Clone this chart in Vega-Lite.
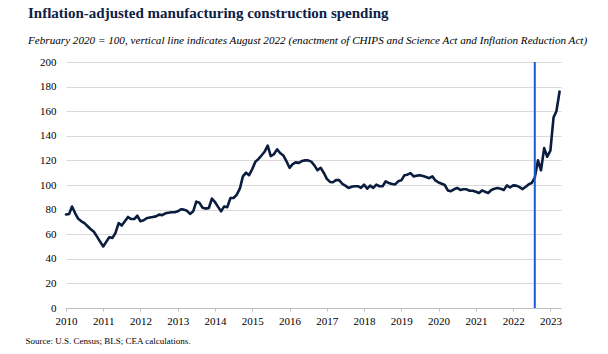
{
  "$schema": "https://vega.github.io/schema/vega-lite/v6.json",
  "width": 495,
  "height": 246,
  "autosize": "none",
  "padding": {"left": 66, "top": 62, "right": 47, "bottom": 46},
  "background": "white",
  "config": {"view": {"stroke": null}, "font": "Liberation Serif"},
  "title": {
    "text": "Inflation-adjusted manufacturing construction spending",
    "subtitle": "February 2020 = 100, vertical line indicates August 2022 (enactment of CHIPS and Science Act and Inflation Reduction Act)",
    "anchor": "start",
    "frame": "group",
    "dx": -38,
    "offset": 10,
    "font": "Liberation Serif",
    "fontSize": 15,
    "fontWeight": "bold",
    "color": "#0c2146",
    "subtitleFont": "Liberation Serif",
    "subtitleFontStyle": "italic",
    "subtitleFontSize": 11.15,
    "subtitleColor": "#000000",
    "subtitlePadding": 14
  },
  "datasets": {
    "series": [
      {"date": "2010-01-01", "v": 76}, {"date": "2010-02-01", "v": 76.5}, {"date": "2010-03-01", "v": 82.5}, {"date": "2010-04-01", "v": 77},
      {"date": "2010-05-01", "v": 72.5}, {"date": "2010-06-01", "v": 70.5}, {"date": "2010-07-01", "v": 69}, {"date": "2010-08-01", "v": 66.5},
      {"date": "2010-09-01", "v": 64}, {"date": "2010-10-01", "v": 62}, {"date": "2010-11-01", "v": 58}, {"date": "2010-12-01", "v": 54},
      {"date": "2011-01-01", "v": 50}, {"date": "2011-02-01", "v": 54}, {"date": "2011-03-01", "v": 57.5}, {"date": "2011-04-01", "v": 57},
      {"date": "2011-05-01", "v": 61}, {"date": "2011-06-01", "v": 69}, {"date": "2011-07-01", "v": 67}, {"date": "2011-08-01", "v": 70.5},
      {"date": "2011-09-01", "v": 74}, {"date": "2011-10-01", "v": 72.3}, {"date": "2011-11-01", "v": 72.3}, {"date": "2011-12-01", "v": 75},
      {"date": "2012-01-01", "v": 70.5}, {"date": "2012-02-01", "v": 71.3}, {"date": "2012-03-01", "v": 73}, {"date": "2012-04-01", "v": 73.5},
      {"date": "2012-05-01", "v": 74}, {"date": "2012-06-01", "v": 74.5}, {"date": "2012-07-01", "v": 75.9}, {"date": "2012-08-01", "v": 75.5},
      {"date": "2012-09-01", "v": 77}, {"date": "2012-10-01", "v": 77.5}, {"date": "2012-11-01", "v": 77.8}, {"date": "2012-12-01", "v": 77.8},
      {"date": "2013-01-01", "v": 78.6}, {"date": "2013-02-01", "v": 80.3}, {"date": "2013-03-01", "v": 80}, {"date": "2013-04-01", "v": 79},
      {"date": "2013-05-01", "v": 76.5}, {"date": "2013-06-01", "v": 78.6}, {"date": "2013-07-01", "v": 86.5}, {"date": "2013-08-01", "v": 85.5},
      {"date": "2013-09-01", "v": 81.5}, {"date": "2013-10-01", "v": 80.8}, {"date": "2013-11-01", "v": 81.3}, {"date": "2013-12-01", "v": 89},
      {"date": "2014-01-01", "v": 86}, {"date": "2014-02-01", "v": 82}, {"date": "2014-03-01", "v": 78.6}, {"date": "2014-04-01", "v": 82.6},
      {"date": "2014-05-01", "v": 82}, {"date": "2014-06-01", "v": 89.4}, {"date": "2014-07-01", "v": 89.4}, {"date": "2014-08-01", "v": 92},
      {"date": "2014-09-01", "v": 97}, {"date": "2014-10-01", "v": 107}, {"date": "2014-11-01", "v": 110}, {"date": "2014-12-01", "v": 108},
      {"date": "2015-01-01", "v": 113}, {"date": "2015-02-01", "v": 119}, {"date": "2015-03-01", "v": 121}, {"date": "2015-04-01", "v": 124},
      {"date": "2015-05-01", "v": 127}, {"date": "2015-06-01", "v": 132}, {"date": "2015-07-01", "v": 123.5}, {"date": "2015-08-01", "v": 125},
      {"date": "2015-09-01", "v": 129}, {"date": "2015-10-01", "v": 126}, {"date": "2015-11-01", "v": 124}, {"date": "2015-12-01", "v": 119.5},
      {"date": "2016-01-01", "v": 114}, {"date": "2016-02-01", "v": 117}, {"date": "2016-03-01", "v": 118.4}, {"date": "2016-04-01", "v": 118},
      {"date": "2016-05-01", "v": 119.5}, {"date": "2016-06-01", "v": 120}, {"date": "2016-07-01", "v": 120}, {"date": "2016-08-01", "v": 119},
      {"date": "2016-09-01", "v": 116}, {"date": "2016-10-01", "v": 112}, {"date": "2016-11-01", "v": 114}, {"date": "2016-12-01", "v": 110},
      {"date": "2017-01-01", "v": 105}, {"date": "2017-02-01", "v": 102.5}, {"date": "2017-03-01", "v": 102.2}, {"date": "2017-04-01", "v": 104},
      {"date": "2017-05-01", "v": 104}, {"date": "2017-06-01", "v": 101}, {"date": "2017-07-01", "v": 99.5}, {"date": "2017-08-01", "v": 97.6},
      {"date": "2017-09-01", "v": 98.5}, {"date": "2017-10-01", "v": 99}, {"date": "2017-11-01", "v": 99}, {"date": "2017-12-01", "v": 97.6},
      {"date": "2018-01-01", "v": 100.3}, {"date": "2018-02-01", "v": 97}, {"date": "2018-03-01", "v": 99.5}, {"date": "2018-04-01", "v": 97.6},
      {"date": "2018-05-01", "v": 100.3}, {"date": "2018-06-01", "v": 99}, {"date": "2018-07-01", "v": 99}, {"date": "2018-08-01", "v": 103},
      {"date": "2018-09-01", "v": 101.6}, {"date": "2018-10-01", "v": 100.8}, {"date": "2018-11-01", "v": 100.5}, {"date": "2018-12-01", "v": 103},
      {"date": "2019-01-01", "v": 103.8}, {"date": "2019-02-01", "v": 108}, {"date": "2019-03-01", "v": 108.4}, {"date": "2019-04-01", "v": 109.7},
      {"date": "2019-05-01", "v": 107}, {"date": "2019-06-01", "v": 107.6}, {"date": "2019-07-01", "v": 108}, {"date": "2019-08-01", "v": 107.3},
      {"date": "2019-09-01", "v": 106.5}, {"date": "2019-10-01", "v": 105.5}, {"date": "2019-11-01", "v": 107}, {"date": "2019-12-01", "v": 103.7},
      {"date": "2020-01-01", "v": 102}, {"date": "2020-02-01", "v": 101}, {"date": "2020-03-01", "v": 100}, {"date": "2020-04-01", "v": 95.6},
      {"date": "2020-05-01", "v": 95}, {"date": "2020-06-01", "v": 96.5}, {"date": "2020-07-01", "v": 97.6}, {"date": "2020-08-01", "v": 96},
      {"date": "2020-09-01", "v": 96.5}, {"date": "2020-10-01", "v": 96.5}, {"date": "2020-11-01", "v": 95.3}, {"date": "2020-12-01", "v": 95.3},
      {"date": "2021-01-01", "v": 94.5}, {"date": "2021-02-01", "v": 93.5}, {"date": "2021-03-01", "v": 95.6}, {"date": "2021-04-01", "v": 94.5},
      {"date": "2021-05-01", "v": 93.5}, {"date": "2021-06-01", "v": 95.9}, {"date": "2021-07-01", "v": 97}, {"date": "2021-08-01", "v": 97.6},
      {"date": "2021-09-01", "v": 97}, {"date": "2021-10-01", "v": 96}, {"date": "2021-11-01", "v": 99.7}, {"date": "2021-12-01", "v": 98},
      {"date": "2022-01-01", "v": 99.7}, {"date": "2022-02-01", "v": 99.5}, {"date": "2022-03-01", "v": 98.5}, {"date": "2022-04-01", "v": 96.7},
      {"date": "2022-05-01", "v": 98.4}, {"date": "2022-06-01", "v": 100.5}, {"date": "2022-07-01", "v": 101.6}, {"date": "2022-08-01", "v": 106},
      {"date": "2022-09-01", "v": 120}, {"date": "2022-10-01", "v": 112}, {"date": "2022-11-01", "v": 130}, {"date": "2022-12-01", "v": 123},
      {"date": "2023-01-01", "v": 128}, {"date": "2023-02-01", "v": 155}, {"date": "2023-03-01", "v": 160}, {"date": "2023-04-01", "v": 176}
    ],
    "marker": [{"date": "2022-08-01"}]
  },
  "layer": [
    {
      "data": {"name": "series"},
      "mark": {"type": "line", "color": "#0b1d3f", "strokeWidth": 2.6, "strokeJoin": "round", "strokeCap": "round"},
      "encoding": {
        "x": {
          "field": "date", "type": "temporal",
          "scale": {"domain": [{"year": 2010, "month": 1, "date": 1}, {"year": 2023, "month": 4, "date": 15}]},
          "axis": {
            "title": "Source: U.S. Census; BLS; CEA calculations.",
            "titleFont": "Liberation Serif", "titleFontSize": 9, "titleFontWeight": "normal", "titleColor": "#000000",
            "titleAnchor": "start", "titleAlign": "left", "titleBaseline": "alphabetic", "titleX": -41, "titleY": 35,
            "format": "%Y", "tickCount": {"interval": "year", "step": 1},
            "grid": false, "domainColor": "#bfbfbf", "tickColor": "#bfbfbf", "tickSize": 3,
            "labelFont": "Liberation Serif", "labelFontSize": 11, "labelColor": "#000000", "labelPadding": 4,
            "labelFlush": false, "labelOverlap": false
          }
        },
        "y": {
          "field": "v", "type": "quantitative",
          "scale": {"domain": [0, 200]},
          "axis": {
            "title": null, "values": [0, 20, 40, 60, 80, 100, 120, 140, 160, 180, 200],
            "grid": true, "gridColor": "#d9d9d9", "domain": false, "ticks": false,
            "labelFont": "Liberation Serif", "labelFontSize": 11, "labelColor": "#000000", "labelPadding": 10
          }
        }
      }
    },
    {
      "data": {"name": "marker"},
      "mark": {"type": "rule", "color": "#1a5ad7", "strokeWidth": 2},
      "encoding": {"x": {"field": "date", "type": "temporal"}}
    }
  ]
}
